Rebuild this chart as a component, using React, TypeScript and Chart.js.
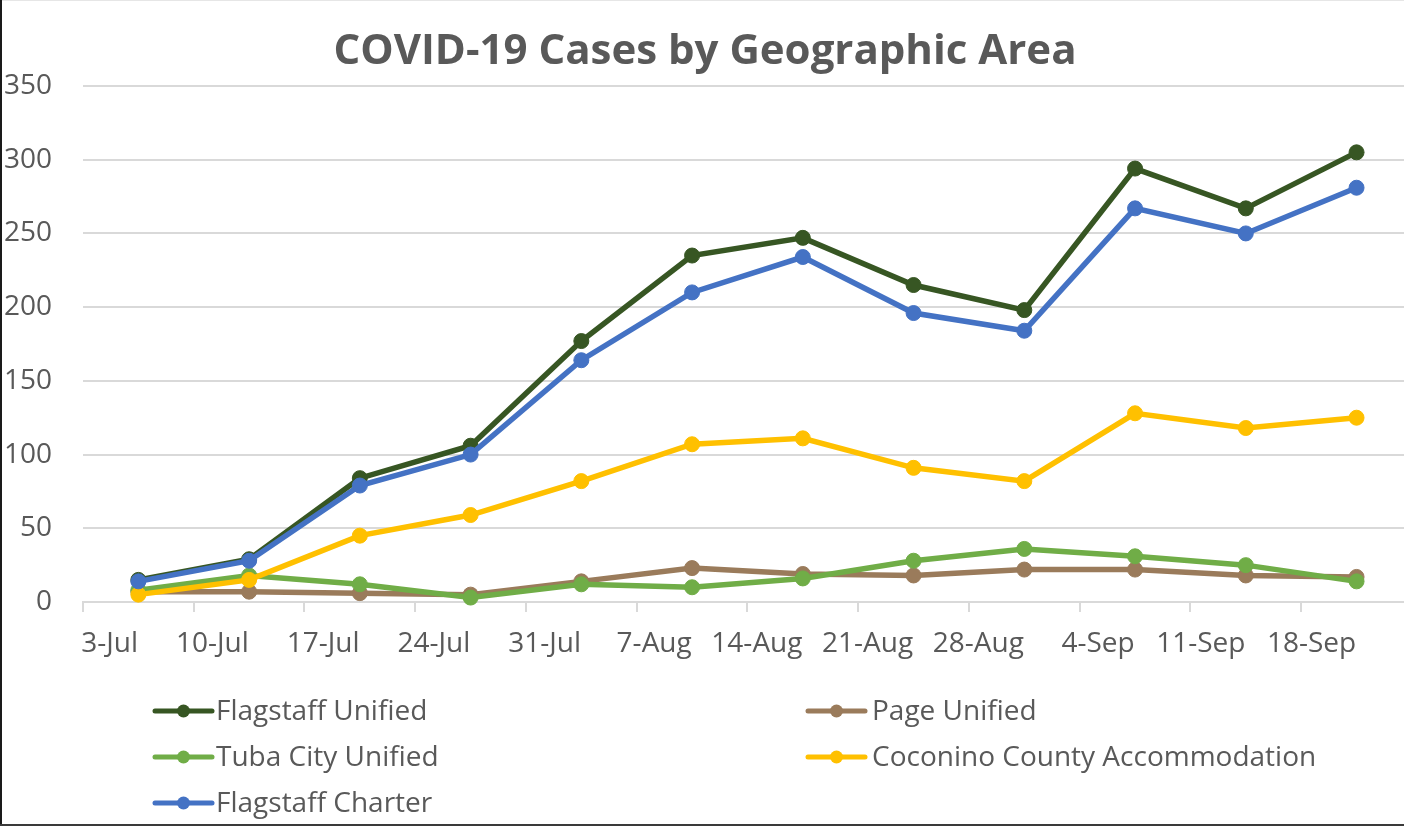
import React, { useEffect, useRef } from "react";
import { Chart, registerables } from "chart.js";

Chart.register(...registerables);

// ---------- data ----------
const TITLE = "COVID-19 Cases by Geographic Area";
const AXIS_START_UTC = Date.UTC(2020, 6, 3); // 3-Jul-2020, first axis tick
const MONTHS = ["Jan", "Feb", "Mar", "Apr", "May", "Jun", "Jul", "Aug", "Sep", "Oct", "Nov", "Dec"];
const DATES = [
  "2020-07-06", "2020-07-13", "2020-07-20", "2020-07-27", "2020-08-03", "2020-08-10",
  "2020-08-17", "2020-08-24", "2020-08-31", "2020-09-07", "2020-09-14", "2020-09-21",
];
const SERIES_NAMES = [
  "Flagstaff Unified",
  "Page Unified",
  "Tuba City Unified",
  "Coconino County Accommodation",
  "Flagstaff Charter",
];
const FLAGSTAFF_UNIFIED = [15, 29, 84, 106, 177, 235, 247, 215, 198, 294, 267, 305];
const PAGE_UNIFIED = [7, 7, 6, 5, 14, 23, 19, 18, 22, 22, 18, 17];
const TUBA_CITY_UNIFIED = [8, 18, 12, 3, 12, 10, 16, 28, 36, 31, 25, 14];
const COCONINO_COUNTY = [5, 15, 45, 59, 82, 107, 111, 91, 82, 128, 118, 125];
const FLAGSTAFF_CHARTER = [14, 28, 79, 100, 164, 210, 234, 196, 184, 267, 250, 281];
const SERIES_VALUES = [FLAGSTAFF_UNIFIED, PAGE_UNIFIED, TUBA_CITY_UNIFIED, COCONINO_COUNTY, FLAGSTAFF_CHARTER];
const SERIES_COLORS = ["#375623", "#9a7b5b", "#70ad47", "#ffc000", "#4472c4"];
const Y_MIN = 0;
const Y_MAX = 350;
const Y_STEP = 50;
const X_STEP_DAYS = 7;
const X_MAX_DAYS = 83.5;

// ---------- helpers ----------
const DAY_MS = 86400000;
const dayOffset = (iso: string) => {
  const [y, m, d] = iso.split("-").map(Number);
  return (Date.UTC(y, m - 1, d) - AXIS_START_UTC) / DAY_MS + 0.5; // centre of the day
};
const fmtTick = (v: number) => {
  const d = new Date(AXIS_START_UTC + Math.round(v) * DAY_MS);
  return `${d.getUTCDate()}-${MONTHS[d.getUTCMonth()]}`;
};

const TEXT = "#595959";
const FONT = "'Open Sans', 'Noto Sans', sans-serif";

const framePlugin = {
  id: "frame",
  beforeDraw(chart: any) {
    const { ctx, width, height } = chart;
    ctx.save();
    ctx.fillStyle = "#ffffff";
    ctx.fillRect(0, 0, width, height);
    ctx.restore();
  },
  afterDraw(chart: any) {
    const { ctx, width, height } = chart;
    ctx.save();
    // title
    ctx.fillStyle = TEXT;
    ctx.font = `bold 42px ${FONT}`;
    ctx.textAlign = "center";
    ctx.textBaseline = "middle";
    ctx.fillText(TITLE, width / 2 + 3, 52);

    // legend (two columns, row-major like Excel)
    const colX = [155, 808];
    const rowY0 = 711;
    const rowH = 46;
    chart.data.datasets.forEach((ds: any, i: number) => {
      const x = colX[i % 2];
      const y = rowY0 + Math.floor(i / 2) * rowH;
      ctx.strokeStyle = ds.borderColor;
      ctx.lineWidth = 5;
      ctx.lineCap = "round";
      ctx.beginPath();
      ctx.moveTo(x, y);
      ctx.lineTo(x + 57, y);
      ctx.stroke();
      ctx.fillStyle = ds.borderColor;
      ctx.beginPath();
      ctx.arc(x + 28.5, y, 6.5, 0, Math.PI * 2);
      ctx.fill();
      ctx.fillStyle = TEXT;
      ctx.font = `28px ${FONT}`;
      ctx.textAlign = "left";
      ctx.textBaseline = "middle";
      ctx.fillText(ds.label, x + 61 + (i % 2) * 3, y + 1);
    });

    // outer frame
    ctx.fillStyle = "#e6e6e6";
    ctx.fillRect(0, 0, width, 1);
    ctx.fillStyle = "#1a1a1a";
    ctx.fillRect(0, 0, 2, height);
    ctx.fillStyle = "#3a3a3a";
    ctx.fillRect(0, height - 2, width, 2);
    ctx.restore();
  },
};

export default function App() {
  const ref = useRef<HTMLCanvasElement | null>(null);

  useEffect(() => {
    document.body.style.margin = "0";
    const canvas = ref.current;
    if (!canvas) return;
    const xs = DATES.map(dayOffset);
    const datasets = SERIES_NAMES.map((name, i) => ({
      label: name,
      data: SERIES_VALUES[i].map((v, j) => ({ x: xs[j], y: v })),
      borderColor: SERIES_COLORS[i],
      backgroundColor: SERIES_COLORS[i],
      pointBackgroundColor: SERIES_COLORS[i],
      pointBorderColor: SERIES_COLORS[i],
      borderWidth: 5.5,
      pointRadius: 7.5,
      pointBorderWidth: 1,
      tension: 0,
      clip: false,
      order: SERIES_NAMES.length - i,
    }));

    const chart = new Chart(canvas, {
      type: "line",
      data: { datasets },
      options: {
        responsive: false,
        animation: false,
        events: [],
        layout: { autoPadding: false, padding: { top: 86, left: 0, right: 0, bottom: 164 } },
        plugins: {
          legend: { display: false },
          title: { display: false },
          tooltip: { enabled: false },
        },
        scales: {
          x: {
            type: "linear",
            min: 0,
            max: X_MAX_DAYS,
            afterFit: (s: any) => {
              s.height = 60;
              s.paddingLeft = 0;
              s.paddingRight = 0;
            },
            border: { display: true, color: "#d9d9d9", width: 2 },
            grid: {
              drawOnChartArea: false,
              drawTicks: true,
              tickLength: 10,
              color: "#d9d9d9",
              lineWidth: 2,
            },
            ticks: {
              stepSize: X_STEP_DAYS,
              includeBounds: false,
              autoSkip: false,
              maxRotation: 0,
              minRotation: 0,
              align: "end",
              labelOffset: 55,
              padding: 15,
              color: TEXT,
              font: { family: FONT, size: 28 },
              callback: (v: any) => fmtTick(Number(v)),
            },
          },
          y: {
            min: Y_MIN,
            max: Y_MAX,
            afterFit: (s: any) => {
              s.width = 83;
              s.paddingLeft = 0;
              s.paddingRight = 0;
            },
            border: { display: false },
            grid: { drawTicks: false, color: "#d9d9d9", lineWidth: 2 },
            ticks: {
              stepSize: Y_STEP,
              padding: 31,
              color: TEXT,
              font: { family: FONT, size: 28 },
            },
          },
        },
      },
      plugins: [framePlugin],
    });
    return () => chart.destroy();
  }, []);

  return (
    <div style={{ width: 1404, height: 826 }}>
      <canvas ref={ref} width={1404} height={826} style={{ display: "block" }} />
    </div>
  );
}
